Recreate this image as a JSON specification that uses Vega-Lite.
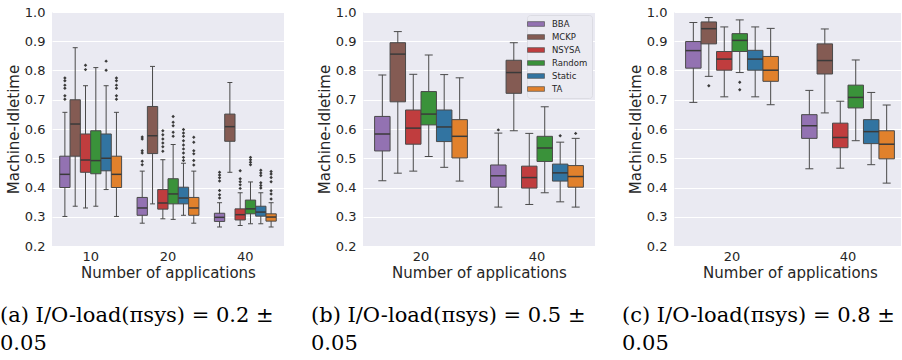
{
  "$schema": "https://vega.github.io/schema/vega-lite/v6.json",
  "padding": {"left": 0, "top": 6, "right": 0, "bottom": 0},
  "background": "white",
  "bounds": "flush",
  "spacing": 79,
  "datasets": {
    "box": [
      {"p": "a", "n": "10", "alg": "BBA", "lo": 0.301, "q1": 0.40, "med": 0.445, "q3": 0.507, "hi": 0.657},
      {"p": "a", "n": "10", "alg": "MCKP", "lo": 0.336, "q1": 0.507, "med": 0.617, "q3": 0.70, "hi": 0.878},
      {"p": "a", "n": "10", "alg": "NSYSA", "lo": 0.330, "q1": 0.452, "med": 0.494, "q3": 0.583, "hi": 0.748},
      {"p": "a", "n": "10", "alg": "Random", "lo": 0.336, "q1": 0.447, "med": 0.492, "q3": 0.594, "hi": 0.81},
      {"p": "a", "n": "10", "alg": "Static", "lo": 0.393, "q1": 0.457, "med": 0.50, "q3": 0.583, "hi": 0.748},
      {"p": "a", "n": "10", "alg": "TA", "lo": 0.301, "q1": 0.40, "med": 0.445, "q3": 0.507, "hi": 0.657},
      {"p": "a", "n": "20", "alg": "BBA", "lo": 0.278, "q1": 0.305, "med": 0.33, "q3": 0.366, "hi": 0.456},
      {"p": "a", "n": "20", "alg": "MCKP", "lo": 0.344, "q1": 0.516, "med": 0.577, "q3": 0.677, "hi": 0.814},
      {"p": "a", "n": "20", "alg": "NSYSA", "lo": 0.293, "q1": 0.326, "med": 0.347, "q3": 0.393, "hi": 0.495},
      {"p": "a", "n": "20", "alg": "Random", "lo": 0.291, "q1": 0.344, "med": 0.378, "q3": 0.43, "hi": 0.547},
      {"p": "a", "n": "20", "alg": "Static", "lo": 0.305, "q1": 0.344, "med": 0.364, "q3": 0.401, "hi": 0.483},
      {"p": "a", "n": "20", "alg": "TA", "lo": 0.278, "q1": 0.305, "med": 0.33, "q3": 0.366, "hi": 0.456},
      {"p": "a", "n": "40", "alg": "BBA", "lo": 0.265, "q1": 0.284, "med": 0.298, "q3": 0.312, "hi": 0.348},
      {"p": "a", "n": "40", "alg": "MCKP", "lo": 0.452, "q1": 0.558, "med": 0.608, "q3": 0.651, "hi": 0.759},
      {"p": "a", "n": "40", "alg": "NSYSA", "lo": 0.27, "q1": 0.289, "med": 0.307, "q3": 0.327, "hi": 0.382},
      {"p": "a", "n": "40", "alg": "Random", "lo": 0.276, "q1": 0.31, "med": 0.327, "q3": 0.357, "hi": 0.419},
      {"p": "a", "n": "40", "alg": "Static", "lo": 0.276, "q1": 0.302, "med": 0.316, "q3": 0.336, "hi": 0.382},
      {"p": "a", "n": "40", "alg": "TA", "lo": 0.265, "q1": 0.285, "med": 0.299, "q3": 0.31, "hi": 0.348},
      {"p": "b", "n": "20", "alg": "BBA", "lo": 0.423, "q1": 0.525, "med": 0.583, "q3": 0.643, "hi": 0.785},
      {"p": "b", "n": "20", "alg": "MCKP", "lo": 0.449, "q1": 0.693, "med": 0.856, "q3": 0.895, "hi": 0.933},
      {"p": "b", "n": "20", "alg": "NSYSA", "lo": 0.456, "q1": 0.548, "med": 0.603, "q3": 0.665, "hi": 0.787},
      {"p": "b", "n": "20", "alg": "Random", "lo": 0.506, "q1": 0.614, "med": 0.651, "q3": 0.728, "hi": 0.853},
      {"p": "b", "n": "20", "alg": "Static", "lo": 0.469, "q1": 0.557, "med": 0.607, "q3": 0.665, "hi": 0.786},
      {"p": "b", "n": "20", "alg": "TA", "lo": 0.422, "q1": 0.501, "med": 0.575, "q3": 0.632, "hi": 0.775},
      {"p": "b", "n": "40", "alg": "BBA", "lo": 0.333, "q1": 0.401, "med": 0.44, "q3": 0.477, "hi": 0.586},
      {"p": "b", "n": "40", "alg": "MCKP", "lo": 0.594, "q1": 0.722, "med": 0.793, "q3": 0.835, "hi": 0.895},
      {"p": "b", "n": "40", "alg": "NSYSA", "lo": 0.342, "q1": 0.398, "med": 0.434, "q3": 0.473, "hi": 0.585},
      {"p": "b", "n": "40", "alg": "Random", "lo": 0.382, "q1": 0.489, "med": 0.535, "q3": 0.575, "hi": 0.676},
      {"p": "b", "n": "40", "alg": "Static", "lo": 0.351, "q1": 0.422, "med": 0.45, "q3": 0.48, "hi": 0.555},
      {"p": "b", "n": "40", "alg": "TA", "lo": 0.333, "q1": 0.401, "med": 0.4375, "q3": 0.475, "hi": 0.568},
      {"p": "c", "n": "20", "alg": "BBA", "lo": 0.691, "q1": 0.808, "med": 0.868, "q3": 0.899, "hi": 0.964},
      {"p": "c", "n": "20", "alg": "MCKP", "lo": 0.78, "q1": 0.891, "med": 0.943, "q3": 0.966, "hi": 0.981},
      {"p": "c", "n": "20", "alg": "NSYSA", "lo": 0.71, "q1": 0.801, "med": 0.839, "q3": 0.865, "hi": 0.949},
      {"p": "c", "n": "20", "alg": "Random", "lo": 0.793, "q1": 0.865, "med": 0.903, "q3": 0.926, "hi": 0.973},
      {"p": "c", "n": "20", "alg": "Static", "lo": 0.71, "q1": 0.801, "med": 0.839, "q3": 0.869, "hi": 0.949},
      {"p": "c", "n": "20", "alg": "TA", "lo": 0.683, "q1": 0.763, "med": 0.801, "q3": 0.848, "hi": 0.944},
      {"p": "c", "n": "40", "alg": "BBA", "lo": 0.464, "q1": 0.568, "med": 0.611, "q3": 0.649, "hi": 0.732},
      {"p": "c", "n": "40", "alg": "MCKP", "lo": 0.655, "q1": 0.788, "med": 0.834, "q3": 0.891, "hi": 0.942},
      {"p": "c", "n": "40", "alg": "NSYSA", "lo": 0.466, "q1": 0.536, "med": 0.571, "q3": 0.62, "hi": 0.695},
      {"p": "c", "n": "40", "alg": "Random", "lo": 0.56, "q1": 0.672, "med": 0.708, "q3": 0.75, "hi": 0.836},
      {"p": "c", "n": "40", "alg": "Static", "lo": 0.478, "q1": 0.55, "med": 0.591, "q3": 0.632, "hi": 0.725},
      {"p": "c", "n": "40", "alg": "TA", "lo": 0.415, "q1": 0.498, "med": 0.548, "q3": 0.594, "hi": 0.682}
    ],
    "out": [
      {"p": "a", "n": "10", "alg": "BBA", "v": 0.774}, {"p": "a", "n": "10", "alg": "BBA", "v": 0.765}, {"p": "a", "n": "10", "alg": "BBA", "v": 0.75}, {"p": "a", "n": "10", "alg": "BBA", "v": 0.739}, {"p": "a", "n": "10", "alg": "BBA", "v": 0.714}, {"p": "a", "n": "10", "alg": "BBA", "v": 0.702},
      {"p": "a", "n": "10", "alg": "NSYSA", "v": 0.818}, {"p": "a", "n": "10", "alg": "NSYSA", "v": 0.803},
      {"p": "a", "n": "10", "alg": "Static", "v": 0.832}, {"p": "a", "n": "10", "alg": "Static", "v": 0.801},
      {"p": "a", "n": "10", "alg": "TA", "v": 0.774}, {"p": "a", "n": "10", "alg": "TA", "v": 0.765}, {"p": "a", "n": "10", "alg": "TA", "v": 0.75}, {"p": "a", "n": "10", "alg": "TA", "v": 0.739}, {"p": "a", "n": "10", "alg": "TA", "v": 0.714}, {"p": "a", "n": "10", "alg": "TA", "v": 0.702},
      {"p": "a", "n": "20", "alg": "BBA", "v": 0.573}, {"p": "a", "n": "20", "alg": "BBA", "v": 0.566}, {"p": "a", "n": "20", "alg": "BBA", "v": 0.526}, {"p": "a", "n": "20", "alg": "BBA", "v": 0.518}, {"p": "a", "n": "20", "alg": "BBA", "v": 0.49}, {"p": "a", "n": "20", "alg": "BBA", "v": 0.478},
      {"p": "a", "n": "20", "alg": "NSYSA", "v": 0.594}, {"p": "a", "n": "20", "alg": "NSYSA", "v": 0.58}, {"p": "a", "n": "20", "alg": "NSYSA", "v": 0.566}, {"p": "a", "n": "20", "alg": "NSYSA", "v": 0.552}, {"p": "a", "n": "20", "alg": "NSYSA", "v": 0.539}, {"p": "a", "n": "20", "alg": "NSYSA", "v": 0.524},
      {"p": "a", "n": "20", "alg": "Random", "v": 0.643}, {"p": "a", "n": "20", "alg": "Random", "v": 0.623}, {"p": "a", "n": "20", "alg": "Random", "v": 0.611}, {"p": "a", "n": "20", "alg": "Random", "v": 0.589}, {"p": "a", "n": "20", "alg": "Random", "v": 0.575},
      {"p": "a", "n": "20", "alg": "Static", "v": 0.598}, {"p": "a", "n": "20", "alg": "Static", "v": 0.586}, {"p": "a", "n": "20", "alg": "Static", "v": 0.575}, {"p": "a", "n": "20", "alg": "Static", "v": 0.56}, {"p": "a", "n": "20", "alg": "Static", "v": 0.545}, {"p": "a", "n": "20", "alg": "Static", "v": 0.532}, {"p": "a", "n": "20", "alg": "Static", "v": 0.518}, {"p": "a", "n": "20", "alg": "Static", "v": 0.503}, {"p": "a", "n": "20", "alg": "Static", "v": 0.492},
      {"p": "a", "n": "20", "alg": "TA", "v": 0.572}, {"p": "a", "n": "20", "alg": "TA", "v": 0.555}, {"p": "a", "n": "20", "alg": "TA", "v": 0.526}, {"p": "a", "n": "20", "alg": "TA", "v": 0.515}, {"p": "a", "n": "20", "alg": "TA", "v": 0.492}, {"p": "a", "n": "20", "alg": "TA", "v": 0.477},
      {"p": "a", "n": "40", "alg": "BBA", "v": 0.452}, {"p": "a", "n": "40", "alg": "BBA", "v": 0.443}, {"p": "a", "n": "40", "alg": "BBA", "v": 0.433}, {"p": "a", "n": "40", "alg": "BBA", "v": 0.422}, {"p": "a", "n": "40", "alg": "BBA", "v": 0.39}, {"p": "a", "n": "40", "alg": "BBA", "v": 0.375}, {"p": "a", "n": "40", "alg": "BBA", "v": 0.364},
      {"p": "a", "n": "40", "alg": "NSYSA", "v": 0.457}, {"p": "a", "n": "40", "alg": "NSYSA", "v": 0.43}, {"p": "a", "n": "40", "alg": "NSYSA", "v": 0.42}, {"p": "a", "n": "40", "alg": "NSYSA", "v": 0.409}, {"p": "a", "n": "40", "alg": "NSYSA", "v": 0.397},
      {"p": "a", "n": "40", "alg": "Random", "v": 0.503}, {"p": "a", "n": "40", "alg": "Random", "v": 0.495}, {"p": "a", "n": "40", "alg": "Random", "v": 0.486}, {"p": "a", "n": "40", "alg": "Random", "v": 0.478},
      {"p": "a", "n": "40", "alg": "Static", "v": 0.459}, {"p": "a", "n": "40", "alg": "Static", "v": 0.45}, {"p": "a", "n": "40", "alg": "Static", "v": 0.441}, {"p": "a", "n": "40", "alg": "Static", "v": 0.416}, {"p": "a", "n": "40", "alg": "Static", "v": 0.407}, {"p": "a", "n": "40", "alg": "Static", "v": 0.398},
      {"p": "a", "n": "40", "alg": "TA", "v": 0.455}, {"p": "a", "n": "40", "alg": "TA", "v": 0.446}, {"p": "a", "n": "40", "alg": "TA", "v": 0.434}, {"p": "a", "n": "40", "alg": "TA", "v": 0.42}, {"p": "a", "n": "40", "alg": "TA", "v": 0.389}, {"p": "a", "n": "40", "alg": "TA", "v": 0.378}, {"p": "a", "n": "40", "alg": "TA", "v": 0.361},
      {"p": "b", "n": "40", "alg": "BBA", "v": 0.597}, {"p": "b", "n": "40", "alg": "Static", "v": 0.577}, {"p": "b", "n": "40", "alg": "TA", "v": 0.585},
      {"p": "c", "n": "20", "alg": "MCKP", "v": 0.748}, {"p": "c", "n": "20", "alg": "Random", "v": 0.76}, {"p": "c", "n": "20", "alg": "Random", "v": 0.734}
    ]
  },
  "resolve": {"scale": {"x": "independent", "xOffset": "independent", "y": "shared", "color": "independent"}, "legend": {"color": "independent"}},
  "hconcat": [
    {
      "width": 232, "height": 234,
      "title": {"text": ["(a) I/O-load(πsys) = 0.2 ±", "0.05"]},
      "data": {"name": "box"},
      "transform": [{"filter": "datum.p == 'a'"}],
      "encoding": {
        "x": {"field": "n", "type": "nominal", "title": "Number of applications", "scale": {"paddingInner": 0, "paddingOuter": 0}},
        "xOffset": {"field": "alg", "type": "nominal", "scale": {"paddingInner": 0, "paddingOuter": 0.75}}
      },
      "layer": [
        {"mark": {"type": "rule", "color": "#4a4a4a", "strokeWidth": 1}, "encoding": {"y": {"field": "lo", "type": "quantitative", "title": "Machine-Idletime", "scale": {"domain": [0.2, 1.0], "nice": false, "zero": false}}, "y2": {"field": "hi"}}},
        {"mark": {"type": "tick", "color": "#4a4a4a", "size": 5, "thickness": 1, "opacity": 1}, "encoding": {"y": {"field": "lo", "type": "quantitative"}}},
        {"mark": {"type": "tick", "color": "#4a4a4a", "size": 5, "thickness": 1, "opacity": 1}, "encoding": {"y": {"field": "hi", "type": "quantitative"}}},
        {"mark": {"type": "bar", "stroke": "#4a4a4a", "strokeWidth": 1, "opacity": 1}, "encoding": {"y": {"field": "q1", "type": "quantitative"}, "y2": {"field": "q3"}, "color": {"field": "alg", "type": "nominal", "legend": null, "scale": {"domain": ["BBA", "MCKP", "NSYSA", "Random", "Static", "TA"], "range": ["#9372B2", "#845B53", "#C03D3E", "#3A923A", "#3274A1", "#E1812C"]}}}},
        {"mark": {"type": "tick", "color": "#3a3a3a", "size": 10, "thickness": 1.5, "opacity": 1}, "encoding": {"y": {"field": "med", "type": "quantitative"}}},
        {"data": {"name": "out"}, "transform": [{"filter": "datum.p == 'a'"}], "mark": {"type": "point", "shape": "diamond", "filled": true, "size": 12, "color": "#3a3a3a", "opacity": 1}, "encoding": {"y": {"field": "v", "type": "quantitative"}}}
      ]
    },
    {
      "width": 232, "height": 234,
      "title": {"text": ["(b) I/O-load(πsys) = 0.5 ±", "0.05"]},
      "data": {"name": "box"},
      "transform": [{"filter": "datum.p == 'b'"}],
      "encoding": {
        "x": {"field": "n", "type": "nominal", "title": "Number of applications", "scale": {"paddingInner": 0, "paddingOuter": 0}},
        "xOffset": {"field": "alg", "type": "nominal", "scale": {"paddingInner": 0, "paddingOuter": 0.75}}
      },
      "layer": [
        {"mark": {"type": "rule", "color": "#4a4a4a", "strokeWidth": 1}, "encoding": {"y": {"field": "lo", "type": "quantitative", "title": "Machine-Idletime", "scale": {"domain": [0.2, 1.0], "nice": false, "zero": false}}, "y2": {"field": "hi"}}},
        {"mark": {"type": "tick", "color": "#4a4a4a", "size": 8, "thickness": 1, "opacity": 1}, "encoding": {"y": {"field": "lo", "type": "quantitative"}}},
        {"mark": {"type": "tick", "color": "#4a4a4a", "size": 8, "thickness": 1, "opacity": 1}, "encoding": {"y": {"field": "hi", "type": "quantitative"}}},
        {"mark": {"type": "bar", "stroke": "#4a4a4a", "strokeWidth": 1, "opacity": 1}, "encoding": {"y": {"field": "q1", "type": "quantitative"}, "y2": {"field": "q3"}, "color": {"field": "alg", "type": "nominal", "scale": {"domain": ["BBA", "MCKP", "NSYSA", "Random", "Static", "TA"], "range": ["#9372B2", "#845B53", "#C03D3E", "#3A923A", "#3274A1", "#E1812C"]}, "legend": {"title": null, "orient": "top-right", "offset": 3, "padding": 4, "fillColor": "#EBEBF2", "strokeColor": "#DCDCE3", "cornerRadius": 3, "labelFont": "DejaVu Sans", "labelFontSize": 8.5, "labelColor": "#262626", "symbolType": "M-2,-0.55H2V0.55H-2Z", "symbolSize": 72, "symbolStrokeColor": "#555555", "symbolStrokeWidth": 0.7, "symbolOpacity": 1, "labelOffset": 11, "rowPadding": 3}}}},
        {"mark": {"type": "tick", "color": "#3a3a3a", "size": 15.5, "thickness": 1.5, "opacity": 1}, "encoding": {"y": {"field": "med", "type": "quantitative"}}},
        {"data": {"name": "out"}, "transform": [{"filter": "datum.p == 'b'"}], "mark": {"type": "point", "shape": "diamond", "filled": true, "size": 12, "color": "#3a3a3a", "opacity": 1}, "encoding": {"y": {"field": "v", "type": "quantitative"}}}
      ]
    },
    {
      "width": 227, "height": 234,
      "title": {"text": ["(c) I/O-load(πsys) = 0.8 ±", "0.05"]},
      "data": {"name": "box"},
      "transform": [{"filter": "datum.p == 'c'"}],
      "encoding": {
        "x": {"field": "n", "type": "nominal", "title": "Number of applications", "axis": {"titleX": 116}, "scale": {"paddingInner": 0, "paddingOuter": 0, "range": [0, 232]}},
        "xOffset": {"field": "alg", "type": "nominal", "scale": {"paddingInner": 0, "paddingOuter": 0.75}}
      },
      "layer": [
        {"mark": {"type": "rule", "color": "#4a4a4a", "strokeWidth": 1}, "encoding": {"y": {"field": "lo", "type": "quantitative", "title": "Machine-Idletime", "scale": {"domain": [0.2, 1.0], "nice": false, "zero": false}}, "y2": {"field": "hi"}}},
        {"mark": {"type": "tick", "color": "#4a4a4a", "size": 8, "thickness": 1, "opacity": 1}, "encoding": {"y": {"field": "lo", "type": "quantitative"}}},
        {"mark": {"type": "tick", "color": "#4a4a4a", "size": 8, "thickness": 1, "opacity": 1}, "encoding": {"y": {"field": "hi", "type": "quantitative"}}},
        {"mark": {"type": "bar", "stroke": "#4a4a4a", "strokeWidth": 1, "opacity": 1}, "encoding": {"y": {"field": "q1", "type": "quantitative"}, "y2": {"field": "q3"}, "color": {"field": "alg", "type": "nominal", "legend": null, "scale": {"domain": ["BBA", "MCKP", "NSYSA", "Random", "Static", "TA"], "range": ["#9372B2", "#845B53", "#C03D3E", "#3A923A", "#3274A1", "#E1812C"]}}}},
        {"mark": {"type": "tick", "color": "#3a3a3a", "size": 15.5, "thickness": 1.5, "opacity": 1}, "encoding": {"y": {"field": "med", "type": "quantitative"}}},
        {"data": {"name": "out"}, "transform": [{"filter": "datum.p == 'c'"}], "mark": {"type": "point", "shape": "diamond", "filled": true, "size": 12, "color": "#3a3a3a", "opacity": 1}, "encoding": {"y": {"field": "v", "type": "quantitative"}}}
      ]
    }
  ],
  "config": {
    "view": {"fill": "#EAEAF2", "stroke": null},
    "title": {"orient": "bottom", "anchor": "start", "frame": "group", "dx": -52, "offset": 25, "font": "DejaVu Serif", "fontSize": 21, "fontWeight": "normal", "lineHeight": 28, "color": "#000000"},
    "axis": {"domain": false, "ticks": false, "tickSize": 0, "labelFont": "DejaVu Sans", "labelFontSize": 13, "labelColor": "#262626", "titleFont": "DejaVu Sans", "titleFontSize": 15, "titleFontWeight": "normal", "titleColor": "#262626", "gridColor": "#FFFFFF", "gridWidth": 1, "gridOpacity": 1},
    "axisX": {"grid": false, "labelAngle": 0, "labelPadding": 4, "titlePadding": 2},
    "axisY": {"grid": true, "values": [0.2, 0.3, 0.4, 0.5, 0.6, 0.7, 0.8, 0.9, 1.0], "format": ".1f", "labelPadding": 7, "titlePadding": 3}
  }
}
